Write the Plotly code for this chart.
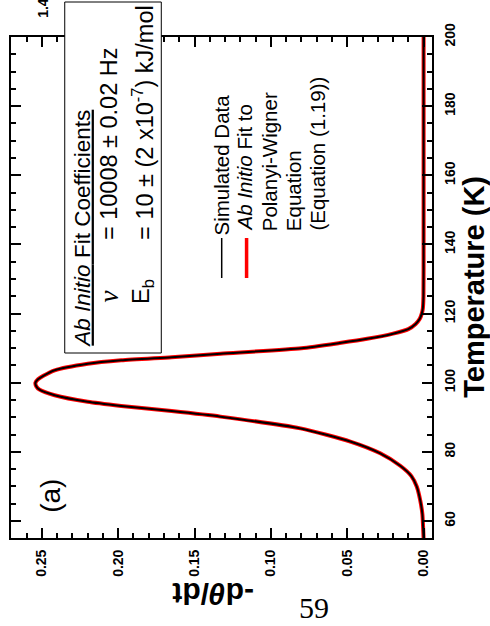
import plotly.graph_objects as go

# ---- data ----
temperature_K = [55, 58, 62, 66, 70, 73, 76, 79.6, 83, 86.8, 90.2, 91.8, 93.3, 94.5,
                 96.4, 98, 99, 100, 101, 102, 103.6, 105.5, 106.5, 107.4, 108.4, 110,
                 111.5, 112.7, 114.2, 115.5, 117, 118.5, 120, 121.5, 125, 140, 160, 180, 200]
simulated_rate = [0.0000, 0.0003, 0.0008, 0.0022, 0.0045, 0.0080, 0.0153, 0.0284, 0.048,
                  0.0806, 0.133, 0.165, 0.198, 0.220, 0.2416, 0.2515, 0.2537, 0.2542,
                  0.2525, 0.2490, 0.2416, 0.2199, 0.198, 0.165, 0.133, 0.080, 0.055,
                  0.037, 0.020, 0.010, 0.0052, 0.0025, 0.0012, 0.0005, 0.0001, 0, 0, 0, 0]
fit_rate = list(simulated_rate)  # fit overlays the simulated data

rate_ticks = [0.00, 0.05, 0.10, 0.15, 0.20, 0.25]
temp_ticks = [60, 80, 100, 120, 140, 160, 180, 200]

W, H = 490, 626
L, R, T, B = 9, 432, 37, 538


def px(x):
    return (x - L) / (R - L)


def py(y):
    return (B - y) / (B - T)


FONT = "Liberation Sans, Arial, sans-serif"
SERIF = "Liberation Serif, DejaVu Serif, serif"

fig = go.Figure()
fig.add_trace(go.Scatter(x=fit_rate, y=temperature_K, mode="lines",
                         line=dict(color="#ff0000", width=4, shape="spline", smoothing=0.6),
                         showlegend=False, hoverinfo="skip"))
fig.add_trace(go.Scatter(x=simulated_rate, y=temperature_K, mode="lines",
                         line=dict(color="#000000", width=2, shape="spline", smoothing=0.6),
                         showlegend=False, hoverinfo="skip"))

axis_common = dict(showline=True, linecolor="black", linewidth=2, mirror="ticks",
                   ticks="inside", tickcolor="black", tickwidth=1.5, ticklen=10,
                   showgrid=False, zeroline=False,
                   tickfont=dict(family=FONT, size=14, color="black", weight="bold"))

fig.update_layout(
    width=W, height=H, margin=dict(l=L, r=W - R, t=T, b=H - B),
    paper_bgcolor="white", plot_bgcolor="white", showlegend=False,
    xaxis=dict(range=[0.2702, -0.0055], tickvals=rate_ticks, tickformat=".2f",
               tickangle=-90, ticklabelstandoff=4,
               minor=dict(dtick=0.01, tick0=0, ticks="inside", ticklen=5,
                          tickcolor="black", tickwidth=1.5),
               **axis_common),
    yaxis=dict(range=[55.1, 200], side="right", tickvals=temp_ticks,
               tickangle=-90, ticklabelstandoff=4,
               minor=dict(dtick=5, tick0=0, ticks="inside", ticklen=5,
                          tickcolor="black", tickwidth=1.5),
               **axis_common),
)

# coefficient box (white fill covering frame)
fig.add_shape(type="rect", xref="paper", yref="paper",
              x0=px(63), x1=px(160), y0=py(353), y1=py(2),
              line=dict(color="black", width=1), fillcolor="white", layer="above")

# legend line samples
fig.add_shape(type="line", xref="paper", yref="paper", x0=px(220.7), x1=px(220.7),
              y0=py(278), y1=py(238), line=dict(color="black", width=1.5), layer="above")
fig.add_shape(type="line", xref="paper", yref="paper", x0=px(245.7), x1=px(245.7),
              y0=py(278), y1=py(238), line=dict(color="#ff0000", width=3.5), layer="above")


def ann(text, x, y, size, xanchor="center", yanchor="bottom", angle=-90, family=FONT,
        weight="normal"):
    fig.add_annotation(text=text, xref="paper", yref="paper", x=px(x), y=py(y),
                       xanchor=xanchor, yanchor=yanchor, textangle=angle, showarrow=False,
                       font=dict(family=family, size=size, color="black", weight=weight),
                       borderpad=0)


# box text
ann("<u><i>Ab Initio</i> Fit Coefficients</u>", 80, 349, 22.5)
ann("<i>ν</i>", 107, 304, 27, family=SERIF)
ann("= 10008 ± 0.02 Hz", 107, 241, 23.5)
ann("E<sub>b</sub>", 141, 305, 23.5)
ann("= 10 ± (2 x10<sup>-7</sup>) kJ/mol", 141, 241, 23.5)

# legend text
ann("Simulated Data", 220, 237, 20.5)
ann("<i>Ab Initio</i> Fit to", 244, 232, 20.5)
ann("Polanyi-Wigner", 269, 232, 20.5)
ann("Equation", 293, 232, 20.5)
ann("(Equation (1.19))", 317, 232, 20.5)

# panel label and axis titles
ann("(a)", 48, 514, 28)
ann("Temperature (K)", 474, 287, 29, yanchor="middle", weight="bold")
ann("-d<i>θ</i>/dt", 212, 594, 30, yanchor="middle", angle=180, weight="bold")
ann("59", 313, 607, 30, yanchor="middle", angle=0, family=SERIF)
ann("1.4", 41, 19, 14, weight="bold")

fig.write_html("out.html")
